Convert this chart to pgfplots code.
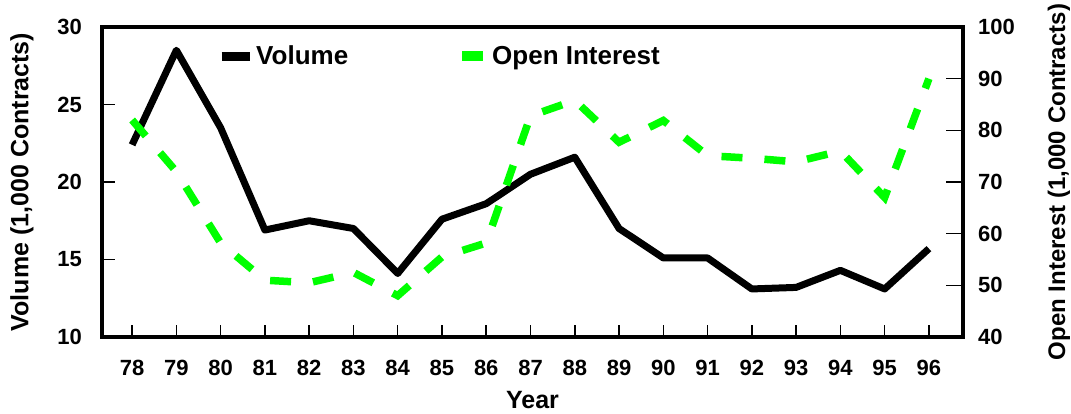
\documentclass[border=0pt]{standalone}
\usepackage{fontspec}
\setmainfont{Liberation Sans}
\usepackage{pgfplots}
\pgfplotsset{compat=1.18}
\usepackage{pgfplotstable}
\definecolor{oigreen}{RGB}{0,255,0}

\pgfplotstableread{
year vol oi
78 22.4 82
79 28.5 72
80 23.5 58.2
81 16.9 51
82 17.5 50.5
83 17.0 52.5
84 14.1 48
85 17.6 55.5
86 18.6 58.2
87 20.5 82.8
88 21.6 85.8
89 17.0 77.7
90 15.1 81.9
91 15.1 75.1
92 13.1 74.6
93 13.2 73.9
94 14.3 76
95 13.1 67
96 15.7 90
}\data

\pgfplotsset{
  volleg/.style={legend image code/.code={\draw[black,line width=9pt] (0pt,0pt)--(28pt,0pt);}},
  oileg/.style={legend image code/.code={\draw[oigreen,line width=10pt] (0pt,0pt)--(23pt,0pt);}},
}

\begin{document}
\begin{tikzpicture}
\path[use as bounding box] (-102pt,-76pt) rectangle (969pt,337pt);
\pgfplotsset{
  every axis/.append style={
    scale only axis, width=861pt, height=310pt,
    xmin=77.32, xmax=96.77,
    axis line style={line width=4pt},
    tick align=inside,
    major tick style={line width=1.5pt,black},
    /pgf/number format/assume math mode=true,
    tick label style={font=\bfseries\fontsize{22}{22}\selectfont},
    label style={font=\bfseries\fontsize{25}{25}\selectfont},
  }
}
\begin{axis}[at={(0,0)}, anchor=south west,
  ymin=10, ymax=30, ytick={10,15,...,30},
  xtick={78,...,96}, xtick pos=bottom, ytick pos=left, major tick length=12.5pt,
  xticklabel style={anchor=base, yshift=-38pt, inner sep=0pt},
  yticklabel style={anchor=east, xshift=-20pt, inner sep=0pt},
  xlabel={Year}, ylabel={Volume (1,000 Contracts)},
  xlabel style={at={(axis description cs:0.5,-0.231)}, anchor=base},
  ylabel style={at={(axis description cs:-0.0929,0.5)}, anchor=center},
]
\addplot[black, line width=7pt, line join=round] table[x=year,y=vol]{\data};
\end{axis}
\begin{axis}[at={(0,0)}, anchor=south west,
  ymin=40, ymax=100, ytick={40,50,...,100},
  hide x axis, axis y line*=right, major tick length=17pt,
  yticklabel style={anchor=west, xshift=15pt, inner sep=0pt},
  ylabel={Open Interest (1,000 Contracts)},
  ylabel style={at={(axis description cs:1.1115,0.5)}, anchor=center, font=\bfseries\fontsize{24}{24}\selectfont},
  legend style={at={(rel axis cs:0.1336,0.906)}, anchor=west, draw=none, fill=none,
    inner sep=0pt, font=\bfseries\fontsize{26}{26}\selectfont,
    /tikz/every even column/.append style={column sep=107pt}},
  legend columns=2,
]
\addlegendimage{volleg}
\addlegendentry{Volume}
\addplot[oigreen, line width=7.5pt, dash pattern=on 21pt off 22pt, oileg] table[x=year,y=oi]{\data};
\addlegendentry{Open Interest}
\end{axis}
\end{tikzpicture}
\end{document}
